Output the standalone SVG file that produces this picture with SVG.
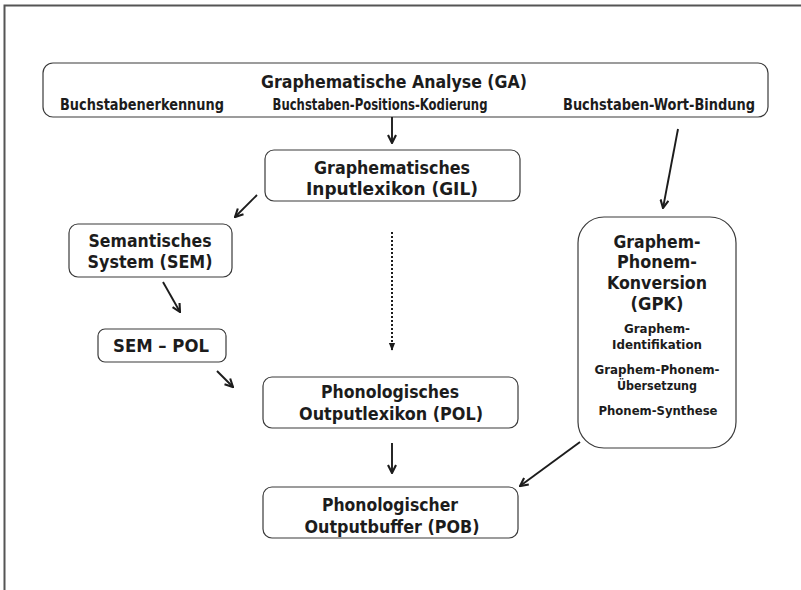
<svg xmlns="http://www.w3.org/2000/svg" width="801" height="590" viewBox="0 0 801 590">
<defs>
<style>
.box{fill:#fff;stroke:#3a3a3a;stroke-width:1.2}
.t{font-family:"DejaVu Sans Condensed","DejaVu Sans",sans-serif;font-weight:bold;fill:#1c1c1c;text-anchor:middle}
.big{font-size:18.5px}
.sm{font-size:15px}
.xs{font-size:13px}
.ar{fill:none;stroke:#1c1c1c;stroke-width:1.9}
.dot{fill:none;stroke:#1c1c1c;stroke-width:2;stroke-dasharray:2 2}
</style>
<marker id="ah" viewBox="0 0 10 10" refX="9" refY="5" markerWidth="10" markerHeight="10" markerUnits="userSpaceOnUse" orient="auto">
<path d="M1,1 L9,5 L1,9" fill="none" stroke="#1c1c1c" stroke-width="2.1"/>
</marker>
<marker id="ahf" viewBox="0 0 10 10" refX="9" refY="5" markerWidth="8" markerHeight="8" markerUnits="userSpaceOnUse" orient="auto">
<path d="M0,1 L10,5 L0,9 Z" fill="#1c1c1c"/>
</marker>
</defs>
<rect width="801" height="590" fill="#fff"/>
<g id="frame" stroke="#555" stroke-width="2" fill="none">
<path d="M4.5,590 L4.5,5.5 L801,5.5"/>
</g>
<g id="GA">
<rect class="box" x="43" y="63" width="725" height="54" rx="10"/>
<text class="t big" x="394" y="88" textLength="266" lengthAdjust="spacingAndGlyphs">Graphematische Analyse (GA)</text>
<text class="t sm" x="142" y="110" textLength="164" lengthAdjust="spacingAndGlyphs">Buchstabenerkennung</text>
<text class="t sm" x="380" y="110" textLength="215" lengthAdjust="spacingAndGlyphs">Buchstaben-Positions-Kodierung</text>
<text class="t sm" x="659" y="110" textLength="192" lengthAdjust="spacingAndGlyphs">Buchstaben-Wort-Bindung</text>
</g>
<g id="GIL">
<rect class="box" x="265" y="150" width="255" height="51" rx="9"/>
<text class="t big" x="392" y="174" textLength="156" lengthAdjust="spacingAndGlyphs">Graphematisches</text>
<text class="t big" x="392" y="195" textLength="172" lengthAdjust="spacingAndGlyphs">Inputlexikon (GIL)</text>
</g>
<g id="SEM">
<rect class="box" x="69" y="224" width="163" height="53" rx="9"/>
<text class="t big" x="150" y="247" textLength="123" lengthAdjust="spacingAndGlyphs">Semantisches</text>
<text class="t big" x="150" y="268" textLength="125" lengthAdjust="spacingAndGlyphs">System (SEM)</text>
</g>
<g id="SEMPOL">
<rect class="box" x="98" y="329" width="128" height="33" rx="7"/>
<text class="t big" x="161" y="352" textLength="96" lengthAdjust="spacingAndGlyphs">SEM – POL</text>
</g>
<g id="POL">
<rect class="box" x="263" y="377" width="255" height="51" rx="9"/>
<text class="t big" x="390" y="398" textLength="138" lengthAdjust="spacingAndGlyphs">Phonologisches</text>
<text class="t big" x="391" y="420" textLength="184" lengthAdjust="spacingAndGlyphs">Outputlexikon (POL)</text>
</g>
<g id="POB">
<rect class="box" x="263" y="487" width="255" height="51" rx="9"/>
<text class="t big" x="390" y="511" textLength="136" lengthAdjust="spacingAndGlyphs">Phonologischer</text>
<text class="t big" x="392" y="533" textLength="175" lengthAdjust="spacingAndGlyphs">Outputbuffer (POB)</text>
</g>
<g id="GPK">
<rect class="box" x="578" y="217" width="158" height="231" rx="26"/>
<text class="t big" x="657" y="248" textLength="87" lengthAdjust="spacingAndGlyphs">Graphem-</text>
<text class="t big" x="657" y="268" textLength="80" lengthAdjust="spacingAndGlyphs">Phonem-</text>
<text class="t big" x="657" y="289" textLength="100" lengthAdjust="spacingAndGlyphs">Konversion</text>
<text class="t big" x="657" y="310" textLength="53" lengthAdjust="spacingAndGlyphs">(GPK)</text>
<text class="t xs" x="657" y="333" textLength="66" lengthAdjust="spacingAndGlyphs">Graphem-</text>
<text class="t xs" x="657" y="349" textLength="90" lengthAdjust="spacingAndGlyphs">Identifikation</text>
<text class="t xs" x="657" y="374" textLength="125" lengthAdjust="spacingAndGlyphs">Graphem-Phonem-</text>
<text class="t xs" x="657" y="390" textLength="80" lengthAdjust="spacingAndGlyphs">Übersetzung</text>
<text class="t xs" x="658" y="415" textLength="119" lengthAdjust="spacingAndGlyphs">Phonem-Synthese</text>
</g>
<g id="connectors">
<path class="ar" d="M392,117 L392,143" marker-end="url(#ah)"/>
<path class="ar" d="M678,129 L663,208" marker-end="url(#ah)"/>
<path class="ar" d="M257,195 L235,217" marker-end="url(#ah)"/>
<path class="ar" d="M163,282 L180,312" marker-end="url(#ah)"/>
<path class="ar" d="M217,371 L233,387" marker-end="url(#ah)"/>
<path class="dot" d="M392,232 L392,350" marker-end="url(#ahf)"/>
<path class="ar" d="M392,443 L392,473" marker-end="url(#ah)"/>
<path class="ar" d="M580,442 L520,486" marker-end="url(#ah)"/>
</g>
</svg>
